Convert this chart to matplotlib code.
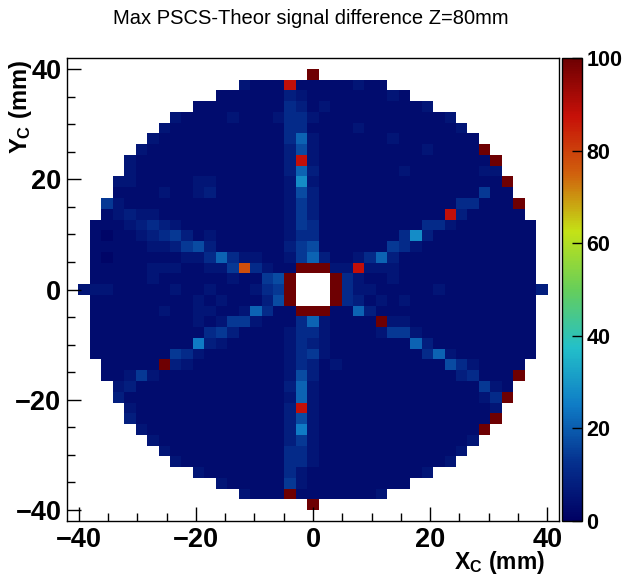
import numpy as np
import matplotlib
matplotlib.use("Agg")
import matplotlib.pyplot as plt
from matplotlib.colors import LinearSegmentedColormap
from matplotlib.ticker import MultipleLocator

plt.rcParams['font.family'] = ['Liberation Sans', 'DejaVu Sans']
plt.rcParams['mathtext.fontset'] = 'custom'
plt.rcParams['mathtext.rm'] = 'Liberation Sans'
plt.rcParams['mathtext.bf'] = 'Liberation Sans:bold'

# 43 x 43 bins over [-42, 42] mm in X_C and Y_C
n_bins = 43
lo, hi = -42.0, 42.0

# cell code -> max signal difference (%), '.' means no entry
levels = {'0': 1.5, '1': 3.5, '2': 5.5, '3': 8.0, '4': 11.0, '5': 14.0,
          '6': 17.0, '7': 21.0, '8': 25.0, '9': 28.0,
          'O': 78.0, 'R': 88.0, 'D': 100.0}

# one string per Y_C bin, top row first, centred on X_C = 0
rows = [
    "",
    "D",
    "2111R11111211",
    "11111132111111121",
    "111111114312111111112",
    "2111121112442111111111112",
    "211111111114411112111111112",
    "21111111111147211111121111111",
    "211111111111136211111111121111D",
    "211111111111113R2111111111111111D",
    "211111111111113731111111211111122",
    "2211111221111112921111111111111111D",
    "11112112311111126311111111111111511",
    "521111111111111125311111111111144111D",
    "123221111111111125311111111111R311111",
    "111234321111111112541111111114421111111",
    "101123453121111112441111111493111111111",
    "111112235631111113561111115421111111111",
    "101111112247422112573112473111111111111",
    "1111122211225O4211DDD22R222111111111111",
    "11111211111121156D...D42112111111111111",
    "222111112112111245D...D422111112111111113",
    "11111111121211136D...D43121211111111111",
    "111111211221127411DDD117311111111111111",
    "1111111112125521114721111D2211111111111",
    "111111111145311112442111125521111111111",
    "111111111832111112432111111173111111111",
    "111111154211111112452111111114721111111",
    "11111D3211111111243121111111116421111",
    "112521111111111126311111111111134111D",
    "23111111111111137211111111111111521",
    "3111111111111112721111111111111124D",
    "211111111111113R21111111111111112",
    "31111111111111362111111111111111D",
    "211111111111138211111111111111D",
    "21111111111135211111111111112",
    "211111111114421111111111112",
    "2111111111442111111111112",
    "211111114211111111112",
    "21111152111111111",
    "2111D11111112",
    "D",
    "",
]

grid = np.full((n_bins, n_bins), np.nan)
for r, body in enumerate(rows):
    line = body.center(n_bins, '.')
    j = n_bins - 1 - r
    for i, ch in enumerate(line):
        if ch != '.':
            grid[j, i] = levels[ch]

# ROOT kRainBow palette
stops = [0.0, 0.125, 0.25, 0.375, 0.5, 0.625, 0.75, 0.875, 1.0]
red = [0, 5, 15, 35, 102, 196, 208, 199, 110]
green = [0, 48, 124, 192, 206, 226, 97, 16, 0]
blue = [99, 142, 198, 201, 90, 22, 13, 8, 2]
cmap = LinearSegmentedColormap.from_list(
    'rainbow55',
    [(s, (r / 255, g / 255, b / 255)) for s, r, g, b in zip(stops, red, green, blue)],
    N=255)

fig = plt.figure(figsize=(6.22, 5.76), dpi=100)
ax = fig.add_axes([67 / 622, 1 - 521 / 576, 492 / 622, 463 / 576])

edges = np.linspace(lo, hi, n_bins + 1)
mesh = ax.pcolormesh(edges, edges, np.ma.masked_invalid(grid), cmap=cmap,
                     vmin=0, vmax=100, antialiased=False)

ax.set_xlim(lo, hi)
ax.set_ylim(lo, hi)
ax.xaxis.set_major_locator(MultipleLocator(20))
ax.xaxis.set_minor_locator(MultipleLocator(5))
ax.yaxis.set_major_locator(MultipleLocator(20))
ax.yaxis.set_minor_locator(MultipleLocator(5))
ax.tick_params(which='both', direction='in', top=False, right=False, width=1)
ax.tick_params(which='major', length=10)
ax.tick_params(which='minor', length=5.5)
ax.tick_params(axis='x', pad=4)
ax.tick_params(axis='y', pad=4)
for lab in ax.get_xticklabels() + ax.get_yticklabels():
    lab.set_fontsize(19.5)
    lab.set_fontweight('bold')
for sp in ax.spines.values():
    sp.set_linewidth(1)

cax = fig.add_axes([562 / 622, 1 - 521 / 576, 20 / 622, 463 / 576])
cb = fig.colorbar(mesh, cax=cax)
cb.set_ticks(range(0, 101, 20))
cb.ax.tick_params(direction='in', length=7, width=1, pad=3)
cb.outline.set_linewidth(1)
for lab in cb.ax.get_yticklabels():
    lab.set_fontsize(15.5)
    lab.set_fontweight('bold')

fig.text(0.5, 1 - 18 / 576, 'Max PSCS-Theor signal difference Z=80mm',
         ha='center', va='center', fontsize=14.5)
fig.text(545 / 622, 1 - 563 / 576, r'$\mathbf{X_C}$ (mm)', ha='right',
         va='center', fontsize=16.5, fontweight='bold')
fig.text(20 / 622, 1 - 60 / 576, r'$\mathbf{Y_C}$ (mm)', ha='center',
         va='top', rotation=90, fontsize=17, fontweight='bold')

fig.savefig('out.png', dpi=100)
